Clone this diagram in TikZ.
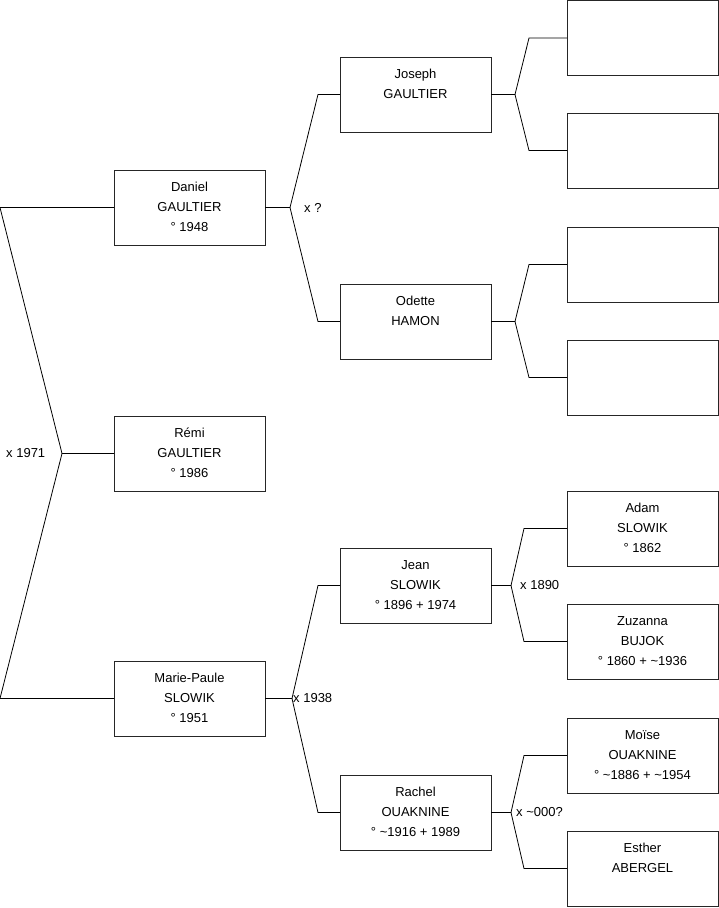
\documentclass[tikz,border=0pt]{standalone}
\usepackage{fontspec}
\setmainfont{Liberation Sans}
\usetikzlibrary{calc}
\newcommand{\pbox}[1]{\parbox[c][75pt][t]{151pt}{\centering\fontsize{13}{20}\selectfont\rule{0pt}{21pt}#1}}
\tikzset{
  person/.style={draw=black!85, line width=0.9pt, anchor=north west, inner sep=0pt, outer sep=0pt},
  link/.style={draw=black, line width=0.8pt},
  mlabel/.style={anchor=west, inner sep=0pt, font=\fontsize{13}{15}\selectfont}
}
\begin{document}
\begin{tikzpicture}[x=1pt,y=-1pt]
\useasboundingbox (0,0) rectangle (719,908);
% generation 1
\node[person] (daniel) at (114,170) {\pbox{Daniel\\GAULTIER\\° 1948}};
\node[person] (remi) at (114,416) {\pbox{Rémi\\GAULTIER\\° 1986}};
\node[person] (mariepaule) at (114,661) {\pbox{Marie-Paule\\SLOWIK\\° 1951}};
% generation 2
\node[person] (joseph) at (340,57) {\pbox{Joseph\\GAULTIER}};
\node[person] (odette) at (340,284) {\pbox{Odette\\HAMON}};
\node[person] (jean) at (340,548) {\pbox{Jean\\SLOWIK\\° 1896 + 1974}};
\node[person] (rachel) at (340,775) {\pbox{Rachel\\OUAKNINE\\° \textasciitilde1916 + 1989}};
% generation 3
\node[person] (ga) at (567,0.5) {\pbox{}};
\node[person] (gb) at (567,113) {\pbox{}};
\node[person] (gc) at (567,227) {\pbox{}};
\node[person] (gd) at (567,340) {\pbox{}};
\node[person] (adam) at (567,491) {\pbox{Adam\\SLOWIK\\° 1862}};
\node[person] (zuzanna) at (567,604) {\pbox{Zuzanna\\BUJOK\\° 1860 + \textasciitilde1936}};
\node[person] (moise) at (567,718) {\pbox{Moïse\\OUAKNINE\\° \textasciitilde1886 + \textasciitilde1954}};
\node[person] (esther) at (567,831) {\pbox{Esther\\ABERGEL}};

% left junction
\coordinate (j0) at ($(remi.west)+(-52,0)$);
\coordinate (a0) at (0,0 |- daniel.west);
\coordinate (b0) at (0,0 |- mariepaule.west);
\draw[link] (remi.west) -- (j0) -- (a0) -- (daniel.west);
\draw[link] (j0) -- (b0) -- (mariepaule.west);
\node[mlabel] (l1971) at ($(j0)+(-56,0)$) {x 1971};

% Daniel's parents
\coordinate (j1) at ($(daniel.east)+(25,0)$);
\draw[link] (daniel.east) -- (j1) -- ($(joseph.west)+(-22,0)$) -- (joseph.west);
\draw[link] (j1) -- ($(odette.west)+(-22,0)$) -- (odette.west);
\node[mlabel] (lq) at ($(j1)+(14,0)$) {x ?};

% Marie-Paule's parents
\coordinate (j2) at ($(mariepaule.east)+(27,0)$);
\draw[link] (mariepaule.east) -- (j2) -- ($(jean.west)+(-22,0)$) -- (jean.west);
\draw[link] (j2) -- ($(rachel.west)+(-22,0)$) -- (rachel.west);
\node[mlabel] (l1938) at ($(j2)+(1,0)$) {x 1938};

% Joseph's parents
\coordinate (j3) at ($(joseph.east)+(24,0)$);
\draw[link] (joseph.east) -- (j3) -- ($(ga.west)+(-38,0)$) -- (ga.west);
\draw[link] (j3) -- ($(gb.west)+(-38,0)$) -- (gb.west);

% Odette's parents
\coordinate (j4) at ($(odette.east)+(24,0)$);
\draw[link] (odette.east) -- (j4) -- ($(gc.west)+(-38,0)$) -- (gc.west);
\draw[link] (j4) -- ($(gd.west)+(-38,0)$) -- (gd.west);

% Jean's parents
\coordinate (j5) at ($(jean.east)+(20,0)$);
\draw[link] (jean.east) -- (j5) -- ($(adam.west)+(-43,0)$) -- (adam.west);
\draw[link] (j5) -- ($(zuzanna.west)+(-43,0)$) -- (zuzanna.west);
\node[mlabel] (l1890) at ($(j5)+(9,0)$) {x 1890};

% Rachel's parents
\coordinate (j6) at ($(rachel.east)+(20,0)$);
\draw[link] (rachel.east) -- (j6) -- ($(moise.west)+(-43,0)$) -- (moise.west);
\draw[link] (j6) -- ($(esther.west)+(-43,0)$) -- (esther.west);
\node[mlabel] (l000) at ($(j6)+(5,0)$) {x \textasciitilde000?};
\end{tikzpicture}
\end{document}
